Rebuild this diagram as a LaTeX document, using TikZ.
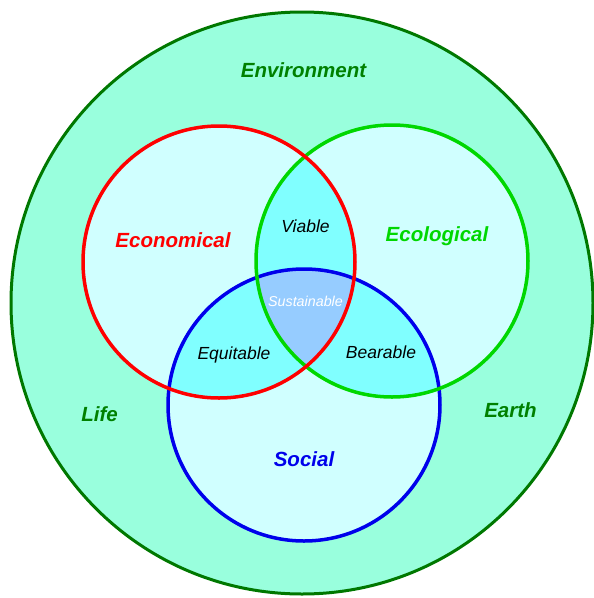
\documentclass[tikz,border=0pt]{standalone}
\usepackage{fontspec}
\setmainfont{Liberation Sans}
\definecolor{outerfill}{RGB}{153,255,221}
\definecolor{outerline}{RGB}{0,120,0}
\definecolor{circfill}{RGB}{208,255,255}
\definecolor{pairfill}{RGB}{128,255,255}
\definecolor{triplefill}{RGB}{150,204,255}
\definecolor{ecored}{RGB}{255,0,0}
\definecolor{ecogreen}{RGB}{0,215,0}
\definecolor{socblue}{RGB}{0,0,235}
\definecolor{envgreen}{RGB}{0,128,0}
\tikzset{%
	ring/.style      = {line width=3.5pt},
	bigword/.style   = {anchor=base, inner sep=0pt, font=\fontsize{20.5}{24}\selectfont\bfseries\itshape},
	smallword/.style = {anchor=base, inner sep=0pt, font=\fontsize{17.5}{21}\selectfont\itshape},
}
\begin{document}
\begin{tikzpicture}[x=1pt,y=-1pt]
	\useasboundingbox (0,0) rectangle (594,598);
	\clip (0,0) rectangle (594,598);
	\coordinate (eco) at (219,262);
	\coordinate (ecl) at (392,261);
	\coordinate (soc) at (304,405);
	\draw[fill=outerfill, draw=outerline, line width=3pt] (302,303) circle (291);
	\fill[circfill] (eco) circle (136) (ecl) circle (136) (soc) circle (136);
	\begin{scope}
		\clip (eco) circle (136);
		\fill[pairfill] (ecl) circle (136) (soc) circle (136);
	\end{scope}
	\begin{scope}
		\clip (ecl) circle (136);
		\fill[pairfill] (soc) circle (136);
	\end{scope}
	\begin{scope}
		\clip (eco) circle (136);
		\clip (ecl) circle (136);
		\fill[triplefill] (soc) circle (136);
	\end{scope}
	\draw[ring, socblue] (soc) circle (136);
	\draw[ring, ecogreen] (ecl) circle (136);
	\draw[ring, ecored] (eco) circle (136);
	\node[bigword, text=envgreen] (environment) at (303.5,77) {Environment};
	\node[bigword, text=ecored] (economical) at (173,247) {Economical};
	\node[bigword, text=ecogreen] (ecological) at (437,241) {Ecological};
	\node[bigword, text=socblue] (social) at (304,466.5) {Social};
	\node[bigword, text=envgreen] (life) at (99.5,421) {Life};
	\node[bigword, text=envgreen] (earth) at (510.5,417) {Earth};
	\node[smallword] (viable) at (305.5,232) {Viable};
	\node[smallword] (equitable) at (234,359) {Equitable};
	\node[smallword] (bearable) at (381,358) {Bearable};
	\node[smallword, text=white, font=\fontsize{14.3}{17}\selectfont\itshape] (sustainable) at (305.5,306) {Sustainable};
\end{tikzpicture}
\end{document}
